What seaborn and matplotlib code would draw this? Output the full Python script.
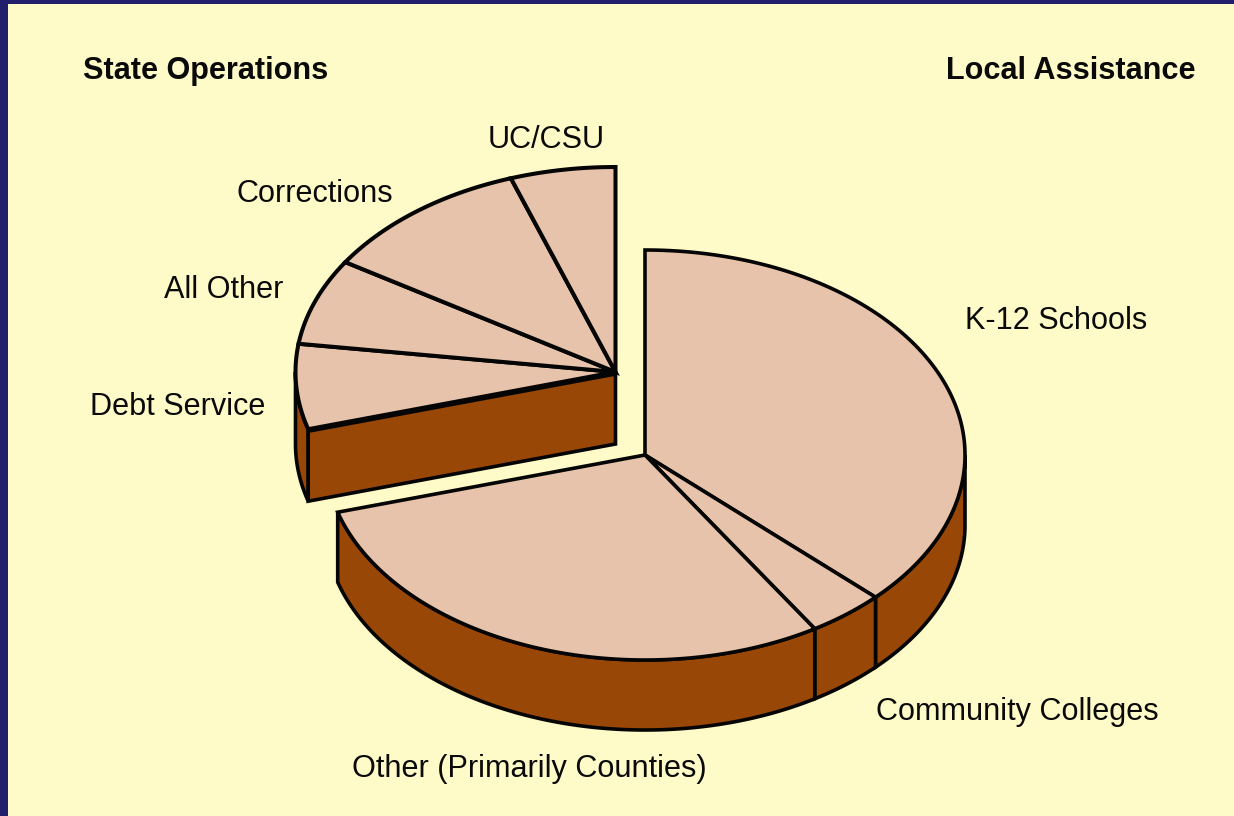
import numpy as np
import matplotlib
matplotlib.use("Agg")
import matplotlib.pyplot as plt
import seaborn as sns

# ---- data (shares of the total, %) ----
local_names = ["K-12 Schools", "Community Colleges", "Other (Primarily Counties)"]
local_shares = [37.2, 3.9, 29.4]
state_names = ["Debt Service", "All Other", "Corrections", "UC/CSU"]
state_shares = [6.7, 6.8, 10.7, 5.3]
group_titles = ["State Operations", "Local Assistance"]

# ---- style ----
sns.set_theme(style="white")
plt.rcParams["font.family"] = ["Liberation Sans", "DejaVu Sans"]
NAVY, CREAM, TOP, SIDE, INK = "#211F6B", "#FFFBC9", "#E6C3AA", "#994706", "#050505"
LW = 2.6
FS = 22.1

fig = plt.figure(figsize=(12.34, 8.16), dpi=100, facecolor=NAVY)
ax = fig.add_axes([8 / 1234, 0, 1 - 8 / 1234, 1 - 4 / 816])
ax.set_xlim(8, 1234)
ax.set_ylim(816, 4)
ax.set_facecolor(CREAM)
ax.set_axis_off()
ax.add_patch(plt.Rectangle((8, 4), 1226, 812, fc=CREAM, ec="none", zorder=0))

RX, RY = 320, 205
MAIN_C, MAIN_DEPTH = (645, 455), 70
STATE_C, STATE_DEPTH = (615.5, 372), 72


def rim(c, a0, a1, dy=0, n=240):
    t = np.radians(np.linspace(a0, a1, n))
    return c[0] + RX * np.sin(t), c[1] - RY * np.cos(t) + dy


def wall(c, a0, a1, depth, z):
    x, y = rim(c, a0, a1)
    xb, yb = rim(c, a1, a0, depth)
    ax.fill(np.r_[x, xb], np.r_[y, yb], fc=SIDE, ec=INK, lw=LW, zorder=z, joinstyle="miter")


def wedge(c, a0, a1, z, lw=LW):
    x, y = rim(c, a0, a1)
    ax.fill(np.r_[c[0], x], np.r_[c[1], y], fc=TOP, ec=INK, lw=lw, zorder=z, joinstyle="miter")


# angles clockwise from 12 o'clock, from cumulative shares
local_edges = 360 * np.cumsum([0] + local_shares) / 100
state_edges = local_edges[-1] + 360 * np.cumsum([0] + state_shares) / 100

# state operations slab (pulled up and left)
wall(STATE_C, state_edges[0], 270, STATE_DEPTH, 2)
x0, y0 = rim(STATE_C, state_edges[0], state_edges[0], n=1)
ax.fill([STATE_C[0], x0[0], x0[0], STATE_C[0]],
        [STATE_C[1] + 2, y0[0] + 2, y0[0] + STATE_DEPTH, STATE_C[1] + STATE_DEPTH],
        fc=SIDE, ec=INK, lw=LW, zorder=3, joinstyle="miter")
for a0, a1 in zip(state_edges[:-1], state_edges[1:]):
    wedge(STATE_C, a0, a1, 4, lw=LW + 0.3)

# local assistance slab
wall(MAIN_C, 90, local_edges[1], MAIN_DEPTH, 5)
wall(MAIN_C, local_edges[1], local_edges[2], MAIN_DEPTH, 5)
wall(MAIN_C, local_edges[2], local_edges[3], MAIN_DEPTH, 5)
for a0, a1 in zip(local_edges[:-1], local_edges[1:]):
    wedge(MAIN_C, a0, a1, 6)

# ---- labels ----
label_place = {
    "K-12 Schools": (965, 329, "left"),
    "Community Colleges": (876, 720, "left"),
    "Other (Primarily Counties)": (352, 777, "left"),
    "Debt Service": (90, 415, "left"),
    "All Other": (164, 298, "left"),
    "Corrections": (236, 202, "left"),
    "UC/CSU": (488, 148, "left"),
}
for name in local_names + state_names:
    x, y, ha = label_place[name]
    ax.text(x, y, name, fontsize=FS, color="#0A0A0A", ha=ha, va="baseline", zorder=8)
ax.text(83, 79, group_titles[0], fontsize=FS, fontweight="bold", color="#0A0A0A", ha="left", va="baseline")
ax.text(1196, 79, group_titles[1], fontsize=FS, fontweight="bold", color="#0A0A0A", ha="right", va="baseline")

fig.savefig("out.png", dpi=100, facecolor=NAVY)
